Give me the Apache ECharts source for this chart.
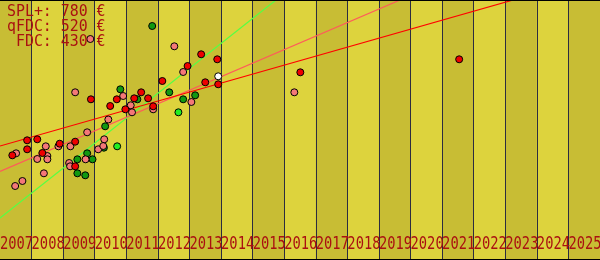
<!DOCTYPE html>
<html>
<head>
<meta charset="utf-8">
<script src="https://cdn.jsdelivr.net/npm/echarts@6/dist/echarts.min.js"></script>
<style>html,body{margin:0;padding:0;background:#ddd33d;}#c{width:600px;height:260px;}</style>
</head>
<body>
<div id="c"></div>
<script>
// ---- data ----
const years = [2007,2008,2009,2010,2011,2012,2013,2014,2015,2016,2017,2018,2019,2020,2021,2022,2023,2024,2025];
const legendNames = ['SPL+', 'qFDC', 'FDC'];
const legendPrices = [780, 520, 430];

// [year, value]
const splPoints = [
  [2006.89,104.7],[2007.36,119.7],[2007.68,120.7],[2007.36,110.7],[2007.84,107],
  [2008.39,116.3],[2008.88,118.3],[2008.88,93.7],[2009.38,160.7],[2009.99,154],
  [2010.20,160.7],[2010.47,150.7],[2010.75,161.7],[2010.97,167.7],[2011.19,161.7],
  [2011.35,153.7],[2011.64,179],[2012.44,194],[2012.87,205.7],[2013.00,177.7],
  [2013.38,200.7],[2013.41,175.7],[2016.01,187.7],[2021.04,200.7]
];
const qfdcPoints = [
  [2007.01,106.7],[2006.98,74],[2007.21,79],[2007.68,101],[2007.89,86.7],
  [2007.95,113.7],[2008.00,104],[2008.00,100.7],[2008.35,113.7],[2008.73,113.7],
  [2008.69,97],[2008.72,93.7],[2008.88,167.7],[2009.21,100.7],[2009.26,127.7],
  [2009.36,221],[2009.61,110.7],[2009.77,114],[2009.80,120.7],[2009.93,140.5],
  [2010.40,164],[2010.64,154.7],[2010.68,147.7],[2011.35,150.7],[2012.02,213.7],
  [2012.30,188],[2012.56,158],[2015.82,167.7]
];
const fdcPoints = [
  [2008.95,100.7],[2009.26,106.7],[2009.43,100.7],[2008.95,86.7],[2009.20,84.7],
  [2009.79,112.3],[2009.83,133.7],[2010.31,170.7],[2010.85,160.7],[2011.32,234],
  [2011.86,167.7],[2012.30,160.7],[2012.68,164.7]
];
const highlightGreen = [[2010.21,113.7],[2012.15,147.7]];
const highlightWhite = [[2013.41,183.7]];

// trend lines [year, value] endpoints
const splTrend = [[2006.5,114],[2022.75,260]];
const qfdcTrend = [[2006.5,88.5],[2019.17,260]];
const fdcTrend = [[2006.5,42],[2015.24,260]];

// ---- chart ----
const chart = echarts.init(document.getElementById('c'), null, {renderer:'canvas'});
const labelColor = '#aa1111';
const mono = '"DejaVu Sans Mono", monospace';

const scatter = (name, data, color, z) => ({
  name, type:'scatter', xAxisIndex:1, yAxisIndex:0, data,
  symbol:'circle', symbolSize:7, z,
  itemStyle:{color, borderColor:'#000', borderWidth:1, opacity:1},
  emphasis:{disabled:true}, silent:true
});
const trend = (name, data, color) => ({
  name, type:'line', xAxisIndex:1, yAxisIndex:0, data,
  symbol:'none', lineStyle:{color, width:1.2}, z:3, silent:true, clip:true
});

const legendGraphics = legendNames.map((n,i) => ({
  type:'text', x:7, y:12 + i*15, scaleX:0.93, z:100,
  style:{
    text: n.padStart(4,' ') + ': ' + legendPrices[i] + ' €',
    font: '16px ' + mono, fill: labelColor, align:'left', verticalAlign:'middle'
  }
}));

chart.setOption({
  animation:false,
  backgroundColor:'#ddd33d',
  grid:{left:0,right:0,top:0,bottom:0,containLabel:false},
  xAxis:[
    {type:'category', data:years, boundaryGap:true, position:'bottom',
     axisLine:{show:false}, axisTick:{show:false, interval:0}, axisLabel:{show:false, interval:0},
     splitLine:{show:true, interval:0, showMinLine:false, showMaxLine:false, lineStyle:{color:'#2c2c40', width:1}},
     splitArea:{show:true, interval:0, areaStyle:{color:['#c8bd34','#ddd33d']}}},
    {type:'value', min:2006.5, max:2025.5, show:false, splitLine:{show:false}}
  ],
  yAxis:[{type:'value', min:0, max:260, show:false, splitLine:{show:false}}],
  graphic:[
    {type:'line', shape:{x1:0,y1:0.5,x2:600,y2:0.5}, style:{stroke:'#000',lineWidth:1}, z:100},
    {type:'line', shape:{x1:0,y1:259.5,x2:600,y2:259.5}, style:{stroke:'#000',lineWidth:1}, z:100}
  ].concat(legendGraphics),
  series:[
    trend('FDC trend', fdcTrend, '#55ff44'),
    trend('qFDC trend', qfdcTrend, '#ff5a5a'),
    trend('SPL+ trend', splTrend, '#ff0000'),
    scatter('FDC', fdcPoints, '#119911', 5),
    scatter('qFDC', qfdcPoints, '#f47878', 6),
    scatter('SPL+', splPoints, '#ee0000', 7),
    scatter('FDC now', highlightGreen, '#22ee22', 8),
    scatter('current', highlightWhite, '#ffffff', 9),
    {
      type:'custom', xAxisIndex:1, yAxisIndex:0, z:20, silent:true, clip:false,
      data: years.map(y => [y]),
      encode:{x:0},
      renderItem:(params, api) => {
        const p = api.coord([api.value(0) - 0.5, 0]);
        return {
          type:'text', x:p[0], y:p[1]-15.3, scaleX:0.81,
          style:{text:String(api.value(0)), font:'17px ' + mono, fill:labelColor,
                 align:'left', verticalAlign:'middle'}
        };
      }
    }
  ]
});
</script>
</body>
</html>
